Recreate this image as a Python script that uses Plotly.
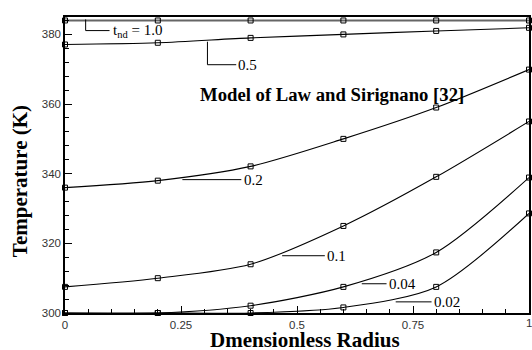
import plotly.graph_objects as go

radius = [0, 0.2, 0.4, 0.6, 0.8, 1.0]
t_labels = ["1.0", "0.5", "0.2", "0.1", "0.04", "0.02"]
temp_t100 = [384.0, 384.0, 384.0, 384.0, 384.0, 384.0]
temp_t050 = [377.1, 377.6, 379.0, 380.0, 381.0, 381.9]
temp_t020 = [336.0, 338.0, 342.1, 350.0, 359.0, 369.9]
temp_t010 = [307.5, 310.0, 314.0, 325.0, 339.1, 355.0]
temp_t004 = [300.0, 300.0, 302.1, 307.5, 317.4, 338.9]
temp_t002 = [300.0, 300.0, 300.0, 301.6, 307.5, 328.6]

x_ticks = [0, 0.25, 0.5, 0.75, 1]
x_tick_text = ["0", "0.25", "0.5", "0.75", "1"]
y_ticks = [300, 320, 340, 360, 380]

series = [temp_t100, temp_t050, temp_t020, temp_t010, temp_t004, temp_t002]

fig = go.Figure()
for i, vals in enumerate(series):
    top = i == 0
    fig.add_trace(go.Scatter(
        x=radius, y=vals, mode="lines+markers",
        line=dict(color="#666666" if top else "black", width=2.2 if top else 1.1,
                  shape="spline", smoothing=0.8),
        marker=dict(symbol="square-open", size=5, color="black",
                    line=dict(width=1, color="black")),
        showlegend=False, cliponaxis=False,
    ))

serif = "Liberation Serif"
tick_font = dict(family="Liberation Sans", size=11.5, color="#333333")
# leader lines (data coordinates)
leaders = [
    [(0.0445, 384.3), (0.0445, 381.1), (0.096, 381.1)],
    [(0.307, 377.9), (0.307, 371.3), (0.369, 371.3)],
    [(0.253, 338.3), (0.380, 338.3)],
    [(0.468, 316.45), (0.560, 316.45)],
    [(0.6396, 308.4), (0.693, 308.4)],
    [(0.7127, 303.2), (0.790, 303.2)],
]
for pts in leaders:
    for (x0, y0), (x1, y1) in zip(pts[:-1], pts[1:]):
        fig.add_shape(type="line", x0=x0, y0=y0, x1=x1, y1=y1,
                      line=dict(color="black", width=1))

label_pos = [(0.099, 381.1), (0.369, 371.3), (0.381, 338.3),
             (0.561, 316.45), (0.694, 308.4), (0.791, 303.2)]
for (x, y), lab in zip(label_pos, t_labels):
    text = "t<sub>nd</sub> = " + lab if lab == "1.0" else lab
    fig.add_annotation(x=x, y=y, text=text, showarrow=False, xanchor="left",
                       yanchor="middle", font=dict(family=serif, size=15, color="black"))

fig.add_annotation(x=0.575, y=362.7, text="<b>Model of Law and Sirignano [32]</b>",
                   showarrow=False, font=dict(family=serif, size=18.7, color="black"))

# last x tick label sits on the right edge of the figure
fig.add_annotation(x=x_ticks[-1], y=0, yref="paper", text=x_tick_text[-1], showarrow=False,
                   xanchor="center", yanchor="top", yshift=-2, font=tick_font)

# axis titles
fig.add_annotation(x=0.518, xref="paper", y=-0.092, yref="paper", text="<b>Dmensionless Radius</b>",
                   showarrow=False, xanchor="center", yanchor="middle",
                   font=dict(family=serif, size=21, color="black"))
fig.add_annotation(x=-0.0973, xref="paper", y=0.445, yref="paper", text="<b>Temperature (K)</b>",
                   showarrow=False, xanchor="center", yanchor="middle", textangle=-90,
                   font=dict(family=serif, size=21, color="black"))

axis_common = dict(showline=True, linecolor="black", linewidth=1.5, mirror=True,
                   ticks="inside", ticklen=7, tickcolor="black", showgrid=False,
                   zeroline=False, tickfont=tick_font)
fig.update_xaxes(range=[0, 1], tickvals=x_ticks[:-1], ticktext=x_tick_text[:-1],
                 minor=dict(dtick=0.05, ticks="inside", ticklen=4, tickcolor="black"),
                 **axis_common)
fig.update_yaxes(range=[300, 385], tickvals=y_ticks,
                 minor=dict(dtick=4, ticks="inside", ticklen=4, tickcolor="black"),
                 **axis_common)
fig.update_layout(width=532, height=350, margin=dict(l=65, r=1, t=17, b=37),
                  plot_bgcolor="white", paper_bgcolor="white")
fig.write_html("out.html", config={"displayModeBar": False},
               post_script="document.body.style.margin='0';document.body.style.overflow='hidden';")
